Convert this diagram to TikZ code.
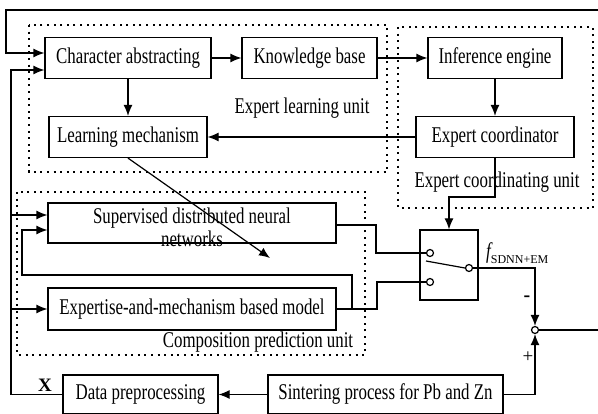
\documentclass[tikz,border=0pt]{standalone}
\usepackage{fontspec}
\setmainfont{Liberation Serif}[FakeStretch=0.75]
\newfontfamily\plainserif{Liberation Serif}
\usepackage{tikz}
\usetikzlibrary{arrows.meta}

\tikzset{
	box/.style={draw, line width=1.2pt, inner sep=0pt, minimum height=41pt},
	unit/.style={line width=2pt, dash pattern=on 2pt off 4.6pt},
	conn/.style={line width=1.2pt},
	arr/.style={conn, -{Latex[length=11pt,width=9pt]}},
	term/.style={circle, draw, line width=1.2pt, fill=white, minimum size=7pt, inner sep=0pt}
}

\begin{document}
\begin{tikzpicture}[x=1pt, y=-1pt, font=\fontsize{22.5}{23}\selectfont]
		\useasboundingbox (0,0) rectangle (598,414);
		\draw[unit] (29,25) rectangle (387,172);
		\draw[unit] (398,27) rectangle (593,208);
		\draw[unit] (17,192) rectangle (365,355);
		\node[box, minimum width=166pt] (char) at (128,58) {Character abstracting};
		\node[box, minimum width=135pt] (kb) at (309.5,58) {Knowledge base};
		\node[box, minimum width=134pt] (inf) at (495,58) {Inference engine};
		\node[box, minimum width=158pt] (coord) at (495,137) {Expert coordinator};
		\node[box, minimum width=158pt] (lm) at (128,137) {Learning mechanism};
		\node[box, minimum width=288pt, minimum height=40pt] (sdnn) at (192,223) {};
		\node[align=center, inner sep=0pt] (sdnntext) at (192,227) {Supervised distributed neural\\networks};
		\node[box, minimum width=288pt, minimum height=42pt] (emm) at (192,309) {Expertise-and-mechanism based model};
		\node[box, minimum width=155pt, minimum height=39pt] (data) at (140.5,394.5) {Data preprocessing};
		\node[box, minimum width=235pt, minimum height=39pt] (sinter) at (385.5,394.5) {Sintering process for Pb and Zn};
		\node[box, minimum width=58pt, minimum height=70pt] (sw) at (449,265) {};
		\node[term] (in1) at (430,253) {};
		\node[term] (in2) at (430,282) {};
		\node[term] (out) at (469,268) {};
		\node[term] (sum) at (535,330) {};
		\node (elu) at (302,108) {Expert learning unit};
		\node (ecu) at (497,182) {Expert coordinating unit};
		\node (cpu) at (258,342) {Composition prediction unit};
		\node[font=\plainserif\bfseries\fontsize{19}{19}\selectfont] (xlab) at (45,385) {X};
		\node[anchor=west, inner sep=0pt] (flab) at (486,253) {\itshape f\raisebox{-5pt}{\plainserif\upshape\fontsize{12}{12}\selectfont SDNN+EM}};
		\node[font=\plainserif\bfseries\fontsize{20}{20}\selectfont] (minus) at (527,299) {-};
		\node[font=\plainserif\fontsize{19}{19}\selectfont] (plus) at (528,357) {+};
		\coordinate (rtop) at (598,10);
		\coordinate (rmid) at (598,330);
		\coordinate (tip) at (270,258);
		\coordinate (blade) at (426,261);
		\draw[arr] (char) -- (kb);
		\draw[arr] (kb) -- (inf);
		\draw[arr] (inf) -- (coord);
		\draw[arr] (coord) -- (lm);
		\draw[arr] (char) -- (lm);
		\draw[arr] (lm.south) -- (tip);
		\draw[arr] (rtop) -| (6,53) -- (char.west |- 0,53);
		\draw[arr] (data.west) -| (11,70) -- (char.west |- 0,70);
		\draw[arr] (11,215) -- (sdnn.west |- 0,215);
		\draw[arr] (11,309) -- (emm.west);
		\draw[arr] (352,309) |- (22,275) |- (sdnn.west |- 0,230);
		\draw[conn] (sdnn.east |- 0,225) -| (376,253) -- (in1);
		\draw[conn] (emm.east) -| (377,282) -- (in2);
		\draw[conn] (blade) -- (out.west);
		\draw[arr] (coord.south) |- (449,197) -- (sw.north);
		\draw[arr] (out) -| (sum);
		\draw[arr] (sinter) -| (sum);
		\draw[conn] (sum) -- (rmid);
		\draw[arr] (sinter) -- (data);
	\end{tikzpicture}
\end{document}
